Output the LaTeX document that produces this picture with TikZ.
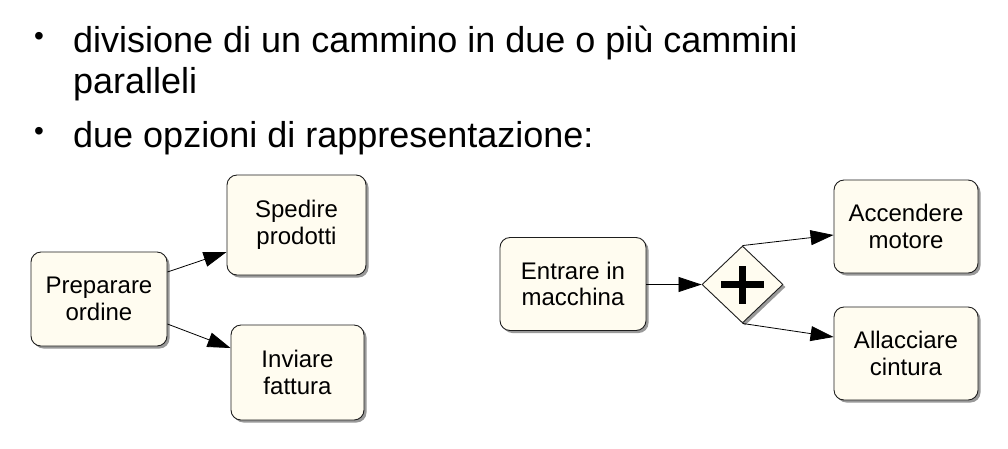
\documentclass[tikz,border=0pt]{standalone}
\usepackage{fontspec}
\setmainfont{Liberation Sans}
\usetikzlibrary{shapes.geometric,arrows.meta,shadows}
\definecolor{cream}{RGB}{255,252,240}
\definecolor{edge}{RGB}{30,30,30}
\tikzset{
  task/.style={draw=edge, line width=0.9pt, fill=cream, rounded corners=10pt, align=center,
    font=\fontsize{24}{26.5}\selectfont, inner sep=0pt,
    drop shadow={shadow xshift=2.5pt, shadow yshift=-2.5pt, fill=black!40, opacity=1}},
  gate/.style={draw=edge, line width=0.9pt, fill=cream, shape=diamond, inner sep=0pt,
    minimum width=81pt, minimum height=77pt,
    drop shadow={shadow xshift=2.5pt, shadow yshift=-2.5pt, fill=black!40, opacity=1}},
  flow/.style={draw=black, line width=0.8pt, -{Triangle[length=23pt, width=15pt]}},
  bullettext/.style={anchor=base west, inner sep=0pt, font=\fontsize{36}{41}\selectfont},
  bulletdot/.style={anchor=base, inner sep=0pt, font=\fontsize{28}{30}\selectfont}
}
\begin{document}
\begin{tikzpicture}[x=1pt, y=-1pt]
\path[use as bounding box, fill=white] (0,0) rectangle (1008,448);

% bullets
\node[bulletdot] (b1) at (39,45) {•};
\node[bullettext] (t1) at (73,52) {divisione di un cammino in due o più cammini};
\node[bullettext] (t2) at (73,93) {paralleli};
\node[bulletdot] (b2) at (39,140) {•};
\node[bullettext] (t3) at (73,147) {due opzioni di rappresentazione:};

% left diagram
\node[task, minimum width=136pt, minimum height=94pt] (prep) at (99,299) {Preparare\\ordine};
\node[task, minimum width=139pt, minimum height=100pt] (sped) at (296.5,225) {Spedire\\prodotti};
\node[task, minimum width=133pt, minimum height=95pt] (inv) at (297.5,372.5) {Inviare\\fattura};

\draw[flow] ([yshift=27pt]prep.east) -- ([yshift=-27pt]sped.west);
\draw[flow] ([yshift=-25pt]prep.east) -- ([yshift=24.5pt]inv.west);

% right diagram
\node[task, minimum width=146pt, minimum height=93pt] (ent) at (573,284) {Entrare in\\macchina};
\node[gate] (dia) at (742.5,284.5) {};
\draw[line width=6.5pt] ([xshift=-21.5pt]dia.center) -- ([xshift=21.5pt]dia.center);
\draw[line width=6.5pt] ([yshift=-19pt]dia.center) -- ([yshift=19pt]dia.center);
\node[task, minimum width=144pt, minimum height=93pt] (acc) at (906,226.5) {Accendere\\motore};
\node[task, minimum width=144pt, minimum height=93pt] (all) at (906,353.5) {Allacciare\\cintura};

\draw[flow] (ent.east |- dia.west) -- (dia.west);
\draw[flow] (dia.north) -- ([yshift=-8.5pt]acc.west);
\draw[flow] (dia.south) -- ([yshift=16.5pt]all.west);
\end{tikzpicture}
\end{document}
